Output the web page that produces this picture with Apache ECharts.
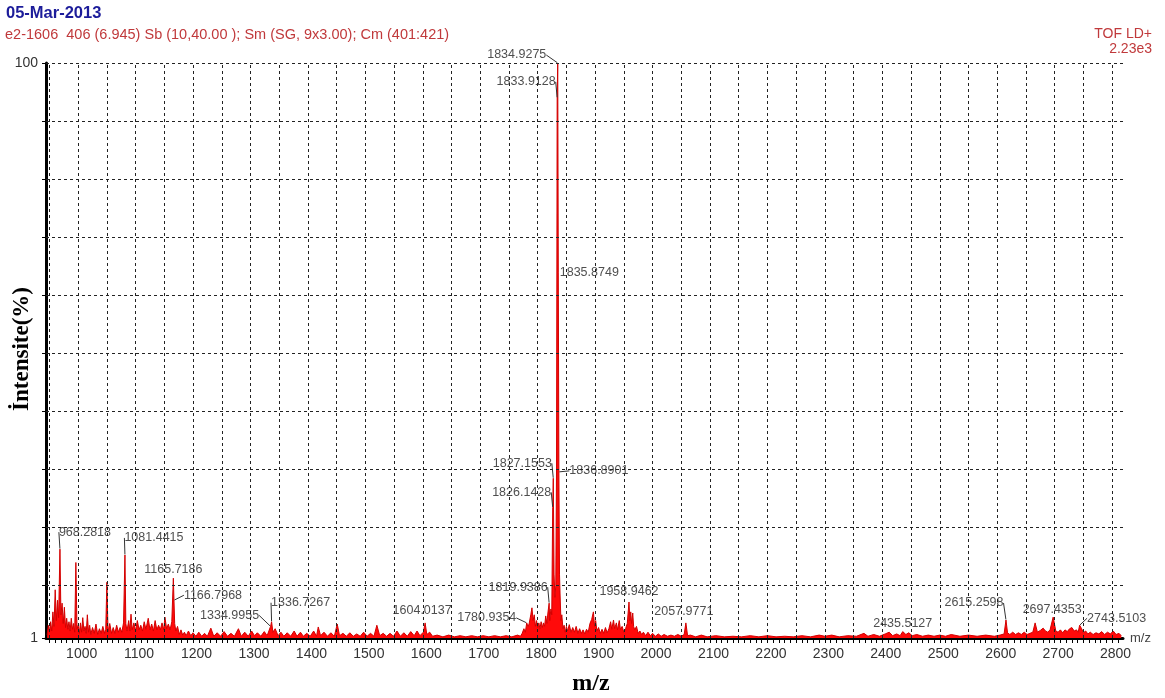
<!DOCTYPE html>
<html><head><meta charset="utf-8">
<script src="https://cdn.jsdelivr.net/npm/echarts@6/dist/echarts.min.js"></script>
<style>html,body{margin:0;padding:0;background:#fff}#c{width:1165px;height:698px}</style>
</head><body><div id="c"></div>
<script>
// ---- spectrum (m/z , relative intensity %) ----
const mzValues = [
 946,948,950,952,954,956,958,960,962,964,966,968.2818,970,972,974,976,978,980,982,984,986,988,990,992,994,996,998,
 1000,1002,1004,1006,1008,1010,1012,1014,1016,1018,1020,1022,1025,1028,1031,1034,1037,1040,1043,1046,1048,1050,1052,1055,1058,1061,1064,1067,1070,1073,1076,1079,1081.4415,1083,1085,1088,1090,1092,1094,1097,
 1100,1103,1106,1109,1112,1115,1118,1122,1125,1128,1131,1134,1137,1140,1143,1146,1149,1151,1154,1157,1160,1163,1165.7186,1166.7968,1168,1170,1173,1176,1179,1182,1185,1188,1192,1196,
 1200,1205,1210,1215,1220,1225,1231,1236,1242,1248,1254,1260,1266,1272,1279,1284,1290,1296,1302,1307,1312,1318,1324,1329,1334.9955,1336.7267,1339,1343,1348,1353,1358,1364,1370,1376,1381,1387,1392,1398,
 1404,1410,1415,1418,1422,1428,1434,1440,1446,1451,1455,1461,1467,1473,1479,1485,1491,1497,1503,1509,1515,1520,1525,1531,1537,1543,1549,1555,1561,1567,1573,1579,1585,1590,1595,1601,1604.0137,1607,1612,1617,
 1625,1635,1645,1655,1665,1675,1685,1695,1705,1715,1725,1735,1745,1755,1765,1770,
 1773,1776,1778.5,1780.9354,1783,1785,1788,1790,1792,1794,1796,1798,1800,1802,1804,1806,1808,1810,1812,1814,1816,1818,1819.9386,1821,1823,1824.5,1826.1428,1827.1553,1828.5,1830,1831.5,1832.8,1833.9128,1834.9275,1835.8749,1836.8901,1838,1839,1840.5,1842,1844,
 1846,1848,1850,1852,1855,1858,1861,1864,1867,1870,1873,1876,1879,1882,1885,1888,1891,1894,1897,1899,1901,1903,1906,1909,1912,1915,1918,1921,1924,1927,1929,1932,1934,1937,1939,1942,1944,1947,1950,1953,1956,1958.9462,1960.5,1962,1963.5,1965.5,1967,1969,1972,1975,1978,1981,1984,1988,1992,1996,
 2000,2005,2010,2015,2020,2026,2032,2038,2044,2050,2055,2057.9771,2061,2066,
 2075,2085,2095,2110,2125,2140,2155,2170,2185,2200,2215,2230,2245,2260,2275,2290,2300,2312,2325,2340,2355,2368,2375,2385,2395,2405,2412,2418,2425,2431,2435.5127,2441,2446,2452,2460,2470,2480,2490,2500,2510,2520,2535,2550,2565,2580,2595,2605,2612,
 2615.2598,2618,2622,2627,2632,2637,2642,2647,2652,2657,2662,2666,2670,2675,2680,2684,2688,2692,2695,2697.4353,2702,2706,2710,2714,2718,2722,2726,2730,2734,2738,2741,2743.5103,2747,2750,2754,2758,2762,2767,2772,2777,2782,2787,2792,2797,2802,2807,2812,2816
];
const intensities = [
 1.5,3.2,2.0,3.8,2.2,5.5,3.0,9.3,4.0,7.5,4.5,16.3,5.0,7.0,3.5,6.3,2.8,4.4,2.5,3.8,2.2,4.4,2.5,3.5,2.0,14.0,2.5,
 3.2,1.8,3.6,2.0,4.5,2.2,3.0,1.8,5.0,2.0,3.2,1.6,2.8,1.8,3.4,1.6,2.6,1.8,3.0,1.8,2.5,10.6,2.0,3.5,1.8,2.8,1.8,3.2,2.0,2.8,2.0,3.6,15.3,3.5,2.2,4.0,2.2,5.1,2.4,3.6,
 2.2,4.0,2.4,3.2,2.2,3.8,2.5,4.4,2.4,3.4,2.2,4.0,2.4,3.2,2.4,3.6,2.4,4.6,2.6,3.4,2.4,3.8,11.3,7.5,3.5,2.2,3.0,1.6,2.4,1.5,2.0,1.4,2.2,1.4,
 1.9,1.3,2.0,1.3,1.8,1.3,2.7,1.3,1.9,1.3,2.1,1.3,1.8,1.3,2.6,1.3,2.0,1.3,2.2,1.4,1.9,1.3,2.1,1.4,3.0,3.8,2.0,2.6,1.4,2.0,1.3,1.9,1.3,2.2,1.3,2.0,1.3,1.8,
 1.3,2.2,1.3,2.9,1.4,2.0,1.3,1.9,1.3,3.4,1.4,1.8,1.3,1.9,1.3,1.7,1.3,2.0,1.3,1.8,1.3,3.2,1.4,1.8,1.3,1.8,1.3,2.2,1.3,1.9,1.3,2.1,1.4,2.2,1.4,2.0,3.6,1.6,2.0,1.3,
 1.5,1.2,1.5,1.2,1.4,1.2,1.4,1.2,1.4,1.2,1.4,1.2,1.4,1.2,1.5,1.3,
 1.8,2.6,2.0,3.6,3.0,3.4,5.0,6.2,4.0,5.0,3.0,4.0,2.8,3.6,2.6,3.8,2.8,3.6,3.0,4.8,3.5,5.5,7.0,4.0,6.0,5.0,23.5,28.5,12,8,10,30,94,100,64,29.6,12,8.4,4.0,5.0,2.6,
 3.2,2.0,3.0,2.2,3.3,2.0,2.8,2.0,3.0,1.8,2.6,1.8,2.4,1.7,2.5,2.0,3.5,4.2,5.5,3.0,4.0,2.2,2.8,1.8,2.5,1.8,2.8,1.9,2.6,3.8,2.5,4.1,2.6,3.6,2.4,4.0,2.5,3.0,2.0,2.6,3.5,7.2,4.0,5.5,3.5,5.3,3.0,2.4,3.0,1.8,2.2,1.6,2.0,1.4,2.0,1.4,
 1.8,1.3,1.7,1.3,1.6,1.3,1.5,1.3,1.6,1.3,1.6,3.6,1.4,1.5,
 1.2,1.5,1.2,1.4,1.2,1.3,1.2,1.4,1.2,1.4,1.2,1.3,1.2,1.4,1.2,1.5,1.3,1.5,1.2,1.4,1.3,1.8,1.3,1.6,1.3,1.7,2.0,1.4,1.7,1.4,2.1,1.6,1.9,1.4,1.6,1.3,1.5,1.3,1.5,1.3,1.6,1.3,1.5,1.3,1.5,1.3,1.5,1.7,
 4.1,1.9,1.6,2.0,1.6,1.9,1.6,2.0,1.6,1.8,2.0,3.6,2.0,2.3,2.7,2.2,2.0,2.4,2.2,4.6,2.2,2.0,2.4,1.9,2.4,2.1,2.6,2.8,2.2,2.4,2.0,3.2,2.6,1.9,2.2,1.7,2.0,1.6,1.9,1.7,2.1,1.6,2.0,1.7,2.2,1.6,1.8,1.4
];

// ---- labelled peaks ----
const peakMz = [1834.9275,1833.9128,1835.8749,1836.8901,1827.1553,1826.1428,1819.9386,1780.9354,1958.9462,2057.9771,1604.0137,
                968.2818,1081.4415,1165.7186,1166.7968,1334.9955,1336.7267,2435.5127,2615.2598,2697.4353,2743.5103];
const peakIntensity = [100,94,64,29.6,28.5,23.5,7.0,3.6,7.2,3.6,3.6,16.3,15.3,11.3,7.5,3.0,3.8,2.1,4.1,4.6,3.2];
// label placement (layout, pixels relative to the peak)
const peakLabelDx = [-41,-31,31,40,-31,-31,-31,-40,0,-2,-3,25,29,0,39,-41,29,0,-32,-1,37];
const peakLabelDy = [-8,-16,0,-1,-15,-15,-16,-5,-10,-11,-12,-17,-17,-9,-5,-11,-19,-8,-17,-8,-7];
const peakLeader = [true,true,false,true,true,true,true,true,false,false,false,true,true,false,true,true,true,false,true,false,true];

// ---- axes ----
const xTickLabels = [1000,1100,1200,1300,1400,1500,1600,1700,1800,1900,2000,2100,2200,2300,2400,2500,2600,2700,2800];
const yTickLabels = [1,100];
const xGridValues = [950,1000,1050,1100,1150,1200,1250,1300,1350,1400,1450,1500,1550,1600,1650,1700,1750,1800,1850,1900,1950,2000,2050,2100,2150,2200,2250,2300,2350,2400,2450,2500,2550,2600,2650,2700,2750,2800];
const yGridValues = [10,20,30,40,50,60,70,80,90,100];
const yTickValues = [1,10,20,30,40,50,60,70,80,90,100];
const xMinorTicks = [];
for (let v = 950; v <= 2810; v += 10) xMinorTicks.push(v);

const FONT = 'Arial, "Liberation Sans", sans-serif';
const SERIF = '"Times New Roman", "Liberation Serif", serif';

const chart = echarts.init(document.getElementById('c'), null, {renderer: 'canvas'});
chart.setOption({
  animation: false,
  backgroundColor: '#fff',
  grid: {left: 46, right: 42, top: 63, bottom: 60, containLabel: false, outerBoundsMode: 'none'},
  graphic: [
    {type: 'text', x: 6, y: 13, style: {text: '05-Mar-2013', fill: '#1c1c9a', font: 'bold 16.5px ' + FONT, verticalAlign: 'middle'}},
    {type: 'text', x: 5, y: 35, style: {text: 'e2-1606  406 (6.945) Sb (10,40.00 ); Sm (SG, 9x3.00); Cm (401:421)', fill: '#c0393b', font: '14.5px ' + FONT, verticalAlign: 'middle'}},
    {type: 'text', x: 1152, y: 34, style: {text: 'TOF LD+', fill: '#c0393b', font: '14px ' + FONT, align: 'right', verticalAlign: 'middle'}},
    {type: 'text', x: 1152, y: 49, style: {text: '2.23e3', fill: '#c0393b', font: '14px ' + FONT, align: 'right', verticalAlign: 'middle'}},
    {type: 'text', x: 591, y: 684, style: {text: 'm/z', fill: '#000', font: 'bold 24px ' + SERIF, align: 'center', verticalAlign: 'middle'}},
    {type: 'text', x: 22, y: 349, rotation: Math.PI / 2, style: {text: 'İntensite(%)', fill: '#000', font: 'bold 23px ' + SERIF, align: 'center', verticalAlign: 'middle'}}
  ],
  xAxis: {
    type: 'value', min: 944, max: 2819,
    name: 'm/z', nameLocation: 'end', nameGap: 7,
    nameTextStyle: {color: '#444', fontSize: 13, fontFamily: FONT, verticalAlign: 'middle'},
    axisLine: {lineStyle: {color: '#000', width: 3}},
    axisTick: {show: true, customValues: xMinorTicks, length: 5, lineStyle: {color: '#000', width: 1}},
    axisLabel: {customValues: xTickLabels, color: '#333', fontSize: 14, fontFamily: FONT, margin: 9, padding: [0, 0, 0, 7], formatter: v => String(v)},
    splitLine: {show: false}
  },
  yAxis: {
    type: 'value', min: 1, max: 100,
    axisLine: {show: true, lineStyle: {color: '#000', width: 3}},
    axisTick: {show: true, customValues: yTickValues, length: 4, lineStyle: {color: '#000', width: 1}},
    axisLabel: {customValues: yTickLabels, color: '#333', fontSize: 14, fontFamily: FONT, margin: 8, formatter: v => String(v)},
    splitLine: {show: false}
  },
  series: [
    {
      type: 'line', data: [[944, 1]], symbol: 'none', silent: true, z: 1,
      lineStyle: {opacity: 0},
      markLine: {
        silent: true, symbol: 'none', animation: false,
        label: {show: false},
        lineStyle: {color: '#222', type: [3, 3], width: 1},
        emphasis: {disabled: true},
        data: xGridValues.map(v => ({xAxis: v})).concat(yGridValues.map(v => ({yAxis: v})))
      }
    },
    {
      type: 'line', z: 3, symbol: 'none', silent: true,
      data: mzValues.map((m, i) => [m, intensities[i]]),
      lineStyle: {color: '#d20000', width: 1},
      areaStyle: {color: '#ff0a0a', opacity: 1, origin: 'start'}
    },
    {
      type: 'scatter', z: 5, symbolSize: 1, silent: true,
      itemStyle: {color: 'rgba(0,0,0,0)'},
      data: peakMz.map((m, i) => ({value: [m, peakIntensity[i]], labelLine: {show: peakLeader[i]}})),
      label: {
        show: true, position: 'inside', align: 'center', verticalAlign: 'middle',
        color: '#222', fontSize: 12.5, fontFamily: FONT, textBorderWidth: 0,
        formatter: p => peakMz[p.dataIndex].toFixed(4)
      },
      labelLine: {lineStyle: {color: '#333', width: 1}},
      labelLayout: p => ({dx: peakLabelDx[p.dataIndex], dy: peakLabelDy[p.dataIndex], hideOverlap: false})
    }
  ]
});
</script>
</body></html>
